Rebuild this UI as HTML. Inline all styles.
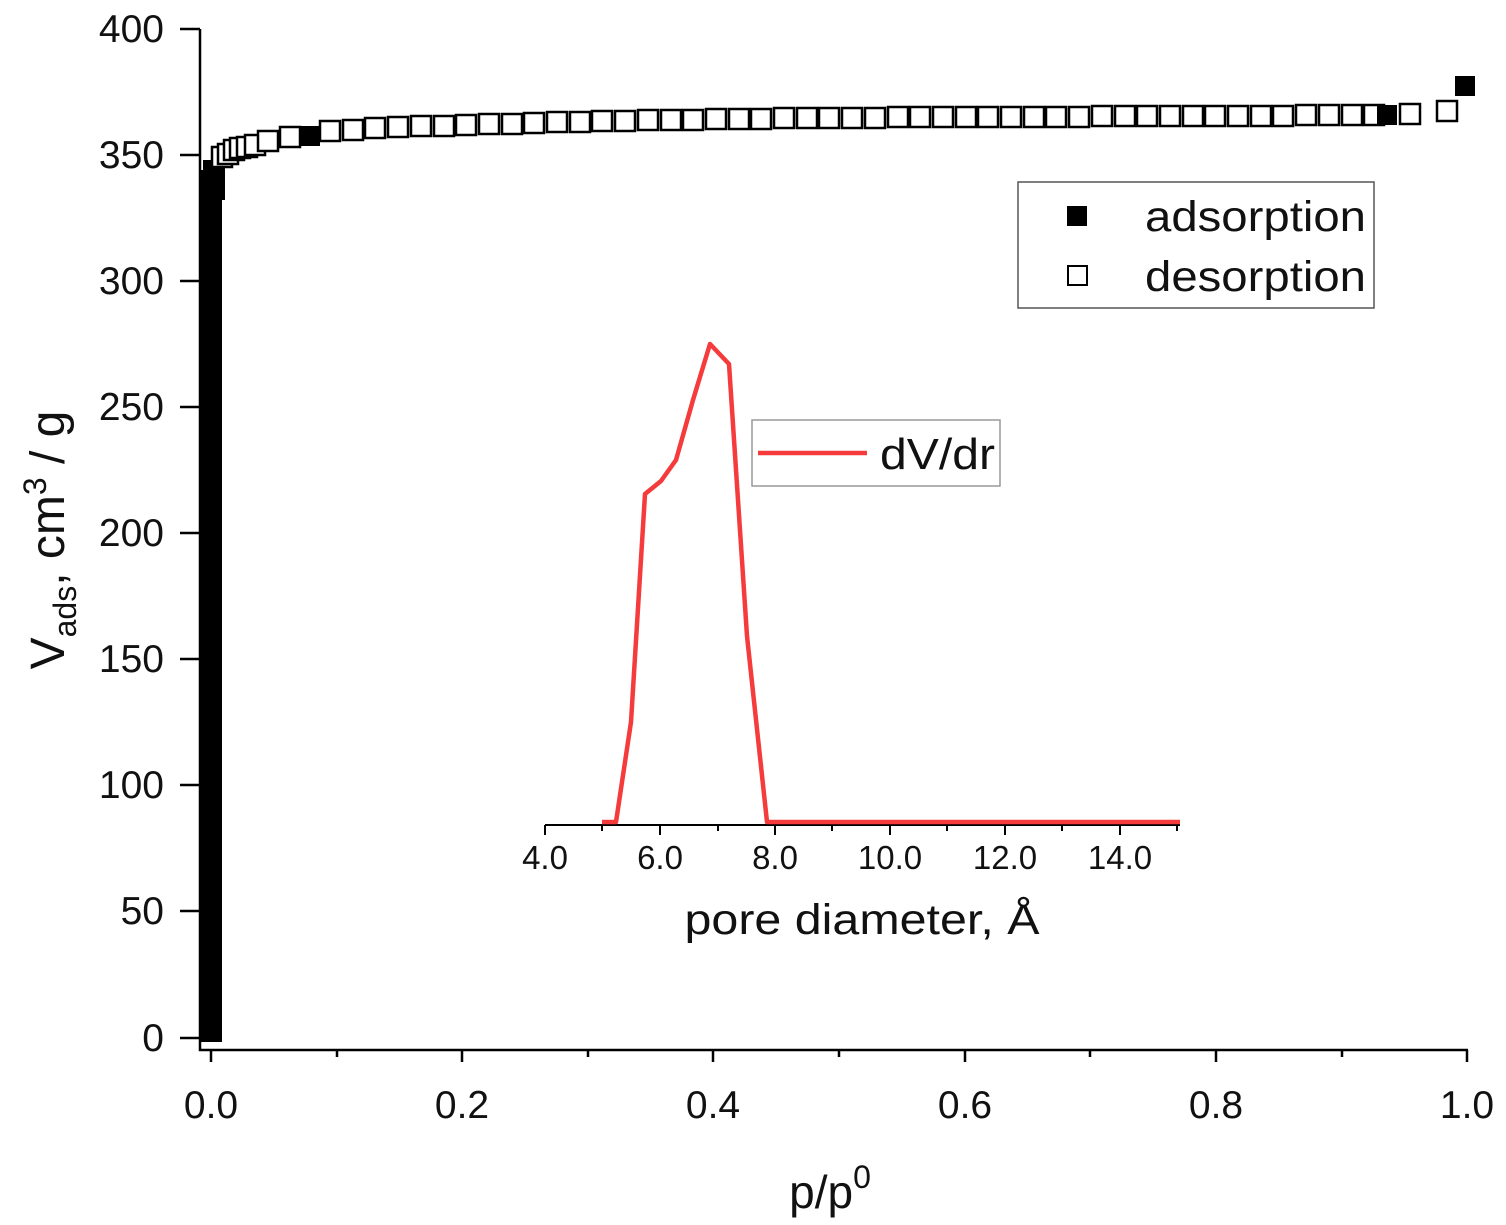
<!DOCTYPE html>
<html><head><meta charset="utf-8"><style>html,body{margin:0;padding:0;background:#fff}svg{display:block}</style></head>
<body>
<svg width="1506" height="1225" viewBox="0 0 1506 1225" xmlns="http://www.w3.org/2000/svg" font-family="Liberation Sans, sans-serif">
<rect width="1506" height="1225" fill="#fff"/>
<g stroke="#000" stroke-width="2.5" fill="none">
<path d="M200,29 V1050 H1468"/>
<path d="M180,29H200M180,155H200M180,281H200M180,407H200M180,533H200M180,659H200M180,785H200M180,911H200M180,1038H200"/>
<path d="M211,1050v12M462,1050v12M713,1050v12M965,1050v12M1216,1050v12M1467,1050v12"/>
<path d="M337,1050v7M588,1050v7M839,1050v7M1090,1050v7M1342,1050v7"/>
</g>
<g font-size="39" text-anchor="end" fill="#111">
<text x="164" y="42">400</text><text x="164" y="168">350</text><text x="164" y="294">300</text><text x="164" y="420">250</text><text x="164" y="546">200</text><text x="164" y="672">150</text><text x="164" y="798">100</text><text x="164" y="924">50</text><text x="164" y="1051">0</text>
</g>
<g font-size="39" text-anchor="middle" fill="#111">
<text x="211" y="1118">0.0</text><text x="462" y="1118">0.2</text><text x="713" y="1118">0.4</text><text x="965" y="1118">0.6</text><text x="1216" y="1118">0.8</text><text x="1467" y="1118">1.0</text>
<text x="830" y="1208" font-size="46">p/p<tspan dy="-20" font-size="32">0</tspan></text>
</g>
<text transform="translate(64,540) rotate(-90)" font-size="48" text-anchor="middle" fill="#111">V<tspan font-size="32" dy="12">ads</tspan><tspan dy="-12">, cm</tspan><tspan font-size="32" dy="-18">3</tspan><tspan dy="18"> / g</tspan></text>
<rect x="199" y="170" width="23" height="872" fill="#000"/>
<rect x="203" y="160" width="22" height="40" fill="#000"/>
<g fill="#fff" stroke="#000" stroke-width="2.5">
<rect x="212" y="147" width="20" height="20"/>
<rect x="218" y="144" width="20" height="20"/>
<rect x="224" y="140" width="20" height="20"/>
<rect x="230" y="138" width="20" height="20"/>
<rect x="237" y="137" width="20" height="20"/>
<rect x="245" y="135" width="20" height="20"/>
<rect x="258" y="131" width="20" height="20"/>
<rect x="280" y="127" width="20" height="20"/>
<rect x="320" y="121" width="20" height="20"/>
<rect x="343" y="120" width="20" height="20"/>
<rect x="365" y="118" width="20" height="20"/>
<rect x="388" y="117" width="20" height="20"/>
<rect x="411" y="116" width="20" height="20"/>
<rect x="434" y="116" width="20" height="20"/>
<rect x="456" y="115" width="20" height="20"/>
<rect x="479" y="114" width="20" height="20"/>
<rect x="502" y="114" width="20" height="20"/>
<rect x="524" y="113" width="20" height="20"/>
<rect x="547" y="112" width="20" height="20"/>
<rect x="570" y="112" width="20" height="20"/>
<rect x="592" y="111" width="20" height="20"/>
<rect x="615" y="111" width="20" height="20"/>
<rect x="638" y="110" width="20" height="20"/>
<rect x="661" y="110" width="20" height="20"/>
<rect x="683" y="110" width="20" height="20"/>
<rect x="706" y="109" width="20" height="20"/>
<rect x="729" y="109" width="20" height="20"/>
<rect x="751" y="109" width="20" height="20"/>
<rect x="774" y="108" width="20" height="20"/>
<rect x="797" y="108" width="20" height="20"/>
<rect x="819" y="108" width="20" height="20"/>
<rect x="842" y="108" width="20" height="20"/>
<rect x="865" y="108" width="20" height="20"/>
<rect x="888" y="107" width="20" height="20"/>
<rect x="910" y="107" width="20" height="20"/>
<rect x="933" y="107" width="20" height="20"/>
<rect x="956" y="107" width="20" height="20"/>
<rect x="978" y="107" width="20" height="20"/>
<rect x="1001" y="107" width="20" height="20"/>
<rect x="1024" y="107" width="20" height="20"/>
<rect x="1046" y="107" width="20" height="20"/>
<rect x="1069" y="107" width="20" height="20"/>
<rect x="1092" y="106" width="20" height="20"/>
<rect x="1115" y="106" width="20" height="20"/>
<rect x="1137" y="106" width="20" height="20"/>
<rect x="1160" y="106" width="20" height="20"/>
<rect x="1183" y="106" width="20" height="20"/>
<rect x="1205" y="106" width="20" height="20"/>
<rect x="1228" y="106" width="20" height="20"/>
<rect x="1251" y="106" width="20" height="20"/>
<rect x="1273" y="106" width="20" height="20"/>
<rect x="1296" y="105" width="20" height="20"/>
<rect x="1319" y="105" width="20" height="20"/>
<rect x="1342" y="105" width="20" height="20"/>
<rect x="1364" y="105" width="20" height="20"/>
<rect x="1400" y="104" width="20" height="20"/>
<rect x="1437" y="101" width="20" height="20"/>
</g>
<g fill="#000">
<rect x="300" y="126" width="20" height="20"/>
<rect x="1377" y="105" width="20" height="20"/>
<rect x="1455" y="76" width="20" height="20"/>
</g>
<rect x="1018" y="182" width="356" height="126" fill="#fff" stroke="#555" stroke-width="1.5"/>
<rect x="1067" y="206" width="20" height="20" fill="#000"/>
<rect x="1068" y="266" width="19" height="19" fill="#fff" stroke="#000" stroke-width="2"/>
<text x="1145" y="231" font-size="43" fill="#111" textLength="221" lengthAdjust="spacingAndGlyphs">adsorption</text>
<text x="1145" y="291" font-size="43" fill="#111" textLength="221" lengthAdjust="spacingAndGlyphs">desorption</text>
<g stroke="#000" stroke-width="2" fill="none">
<path d="M545,825H1180"/>
<path d="M545,825v10M660,825v10M775,825v10M890,825v10M1005,825v10M1120,825v10"/>
<path d="M602,825v6M718,825v6M832,825v6M947,825v6M1062,825v6M1177,825v6"/>
</g>
<g font-size="33" text-anchor="middle" fill="#111">
<text x="545" y="869">4.0</text><text x="660" y="869">6.0</text><text x="775" y="869">8.0</text><text x="890" y="869">10.0</text><text x="1005" y="869">12.0</text><text x="1120" y="869">14.0</text>
<text x="862" y="934" font-size="43" textLength="355" lengthAdjust="spacingAndGlyphs">pore diameter, Å</text>
</g>
<polyline points="602,822 616,822 631,722 645,494 661,481 676,460 693,400 710,344 729,364 747,636 767,822 1180,822" fill="none" stroke="#f53b3b" stroke-width="4.5" stroke-linejoin="round"/>
<rect x="752" y="420" width="248" height="66" fill="#fff" stroke="#999" stroke-width="1.5"/>
<line x1="758" y1="453" x2="867" y2="453" stroke="#f53b3b" stroke-width="4.5"/>
<text x="880" y="469" font-size="44" fill="#111" textLength="115" lengthAdjust="spacingAndGlyphs">dV/dr</text>
</svg>
</body></html>
